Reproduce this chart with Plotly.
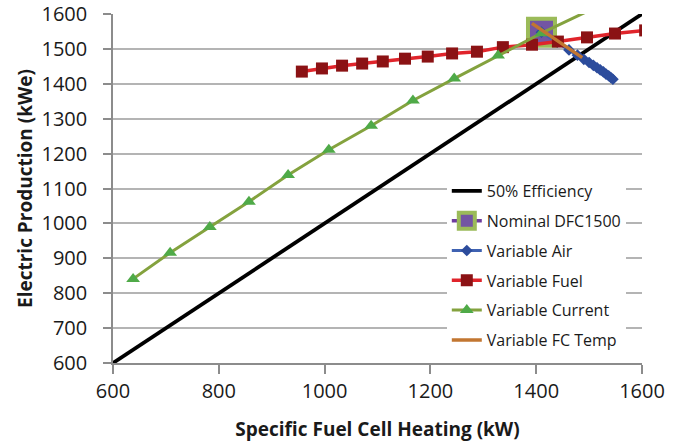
import plotly.graph_objects as go

# ---- data ----
eff_x = [600, 1600]
eff_y = [600, 1600]

nominal_x = [1410]
nominal_y = [1548]

air_x = [1410, 1440, 1462, 1478, 1490, 1500, 1508, 1515, 1521, 1527, 1532, 1537, 1541, 1545]
air_y = [1548, 1519, 1497, 1482, 1470, 1461, 1453, 1446, 1440, 1434, 1428, 1423, 1418, 1413]

fuel_x = [957, 995, 1033, 1071, 1110, 1152, 1195, 1241, 1288, 1337, 1392, 1441, 1496, 1549, 1606]
fuel_y = [1435, 1444, 1452, 1458, 1464, 1472, 1478, 1487, 1492, 1505, 1512, 1521, 1533, 1544, 1553]

current_x = [638, 708, 783, 857, 931, 1008, 1088, 1167, 1245, 1328, 1410, 1500]
current_y = [841, 916, 990, 1062, 1139, 1211, 1280, 1352, 1415, 1481, 1545, 1610]

temp_x = [1392, 1410, 1487]
temp_y = [1573, 1554, 1475]

x_ticks = [600, 800, 1000, 1200, 1400, 1600]
y_ticks = [600, 700, 800, 900, 1000, 1100, 1200, 1300, 1400, 1500, 1600]

FONT = "Open Sans"

fig = go.Figure()
fig.add_trace(go.Scatter(x=eff_x, y=eff_y, mode="lines", name="50% Efficiency",
                         line=dict(color="#000000", width=3.8), legendgroup="a"))
fig.add_trace(go.Scatter(x=nominal_x, y=nominal_y, mode="lines+markers", name="Nominal DFC1500",
                         line=dict(color="#6E3C9E", width=3.5),
                         marker=dict(symbol="square", size=27, color="#7355A3",
                                     line=dict(color="#9BBB59", width=4)), legendgroup="b"))
fig.add_trace(go.Scatter(x=air_x, y=air_y, mode="lines+markers", name="Variable Air",
                         line=dict(color="#3F62B2", width=3),
                         marker=dict(symbol="diamond", size=9, color="#2C4C9C"), legendgroup="c"))
fig.add_trace(go.Scatter(x=fuel_x, y=fuel_y, mode="lines+markers", name="Variable Fuel",
                         line=dict(color="#E0242B", width=3.5),
                         marker=dict(symbol="square", size=12, color="#8B1214"), legendgroup="d"))
fig.add_trace(go.Scatter(x=current_x, y=current_y, mode="lines+markers", name="Variable Current",
                         line=dict(color="#84A23E", width=3),
                         marker=dict(symbol="triangle-up", size=12, color="#4FAA48"), legendgroup="e"))
fig.add_trace(go.Scatter(x=temp_x, y=temp_y, mode="lines", name="Variable FC Temp",
                         line=dict(color="#C27631", width=3.5), legendgroup="f"))

axis_common = dict(showline=True, linecolor="#8C8C8C", linewidth=1.5,
                   ticks="outside", tickcolor="#8C8C8C", tickwidth=1.5,
                   tickfont=dict(family=FONT, size=20, color="#1A1A1A"),
                   zeroline=False, automargin=False)

fig.update_xaxes(range=[600, 1600], tickvals=x_ticks, showgrid=False, ticklen=9,
                 title=dict(text="<b>Specific Fuel Cell Heating (kW)</b>",
                            font=dict(family=FONT, size=19, color="#1A1A1A"), standoff=20),
                 **axis_common)
fig.update_yaxes(range=[600, 1600], tickvals=y_ticks, showgrid=True, gridcolor="#B4B4B4",
                 gridwidth=1.5, ticklen=8, ticklabelstandoff=12,
                 title=dict(text="<b>Electric Production (kWe)</b>",
                            font=dict(family=FONT, size=19, color="#1A1A1A"), standoff=4),
                 **axis_common)

fig.update_layout(
    width=685, height=447,
    margin=dict(l=113, r=43, t=14, b=84),
    paper_bgcolor="white", plot_bgcolor="white",
    font=dict(family=FONT, color="#1A1A1A"),
    legend=dict(x=0.631, y=0.5415, xanchor="left", yanchor="top",
                bgcolor="white", borderwidth=0,
                font=dict(family=FONT, size=16, color="#1A1A1A"),
                tracegroupgap=6, traceorder="grouped"),
)

fig.write_html("out.html", config={"displayModeBar": False},
               post_script="document.body.style.margin='0';document.body.style.padding='0';")
